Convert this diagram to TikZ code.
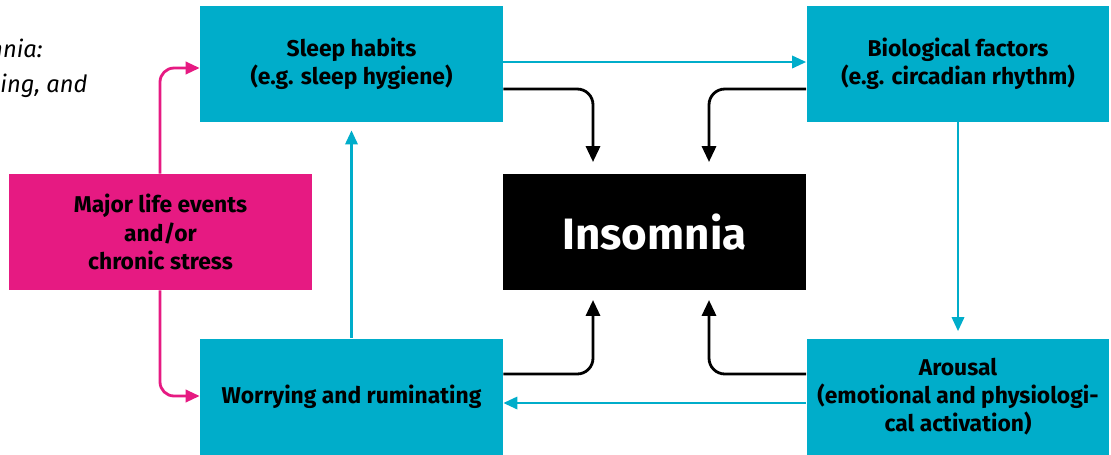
\documentclass[tikz,border=0pt]{standalone}
\usepackage{fontspec}
\setmainfont{Fira Sans}
\usetikzlibrary{arrows.meta}

\definecolor{boxcyan}{HTML}{00ADCA}
\definecolor{boxpink}{HTML}{E61A82}

\begin{document}
\begin{tikzpicture}[x=0.02cm,y=-0.02cm,
  factor/.style={fill=boxcyan,minimum width=6.06cm,minimum height=2.32cm,
    align=center,font=\bfseries\fontsize{13}{16}\selectfont,inner sep=0pt},
  intro/.style={anchor=base east,inner sep=0pt,font=\itshape\fontsize{13.5}{17}\selectfont},
  cyanline/.style={draw=boxcyan,line width=1.4pt,-{Triangle[length=8pt,width=7pt]}},
  blackline/.style={draw=black,line width=1.6pt,rounded corners=9pt,-{Triangle[length=9pt,width=8pt]}},
  pinkline/.style={draw=boxpink,line width=1.6pt,rounded corners=8pt,-{Triangle[length=8pt,width=7pt]}}]
\clip (0,0) rectangle (1111,454);
\node [intro] (intro1) at (43,57) {Insomnia:};
\node [intro] (intro2) at (88,92) {ing, and};
\node [factor] (habits) at (351.5,64) {Sleep habits\\(e.g. sleep hygiene)};
\node [factor] (bio) at (958,64) {Biological factors\\(e.g. circadian rhythm)};
\node [factor,fill=black,text=white,font=\bfseries\fontsize{25}{30}\selectfont] (insomnia) at (654.5,232) {Insomnia};
\node [factor,fill=boxpink] (life) at (160.5,232) {Major life events\\and/or\\chronic stress};
\node [factor] (worry) at (351.5,396.5) {Worrying and ruminating};
\node [factor] (arousal) at (958,396.5) {Arousal\\(emotional and physiologi-\\cal activation)};
% cyan cycle
\draw [cyanline] (habits.east |- 0,62) -- (bio.west |- 0,62);
\draw [cyanline] (bio.south) -- ([yshift=0.14cm]arousal.north);
\draw [cyanline] (arousal.west |- 0,403) -- (worry.east |- 0,403);
\draw [cyanline] (worry.north) -- ([yshift=-0.16cm]habits.south);
% into insomnia
\draw [blackline] (habits.east |- 0,89) -- (593,89) -- (593,162);
\draw [blackline] (bio.west |- 0,89) -- (709,89) -- (709,162);
\draw [blackline] (worry.east |- 0,374) -- (593,374) -- (593,300);
\draw [blackline] (arousal.west |- 0,374) -- (709,374) -- (709,300);
% stress
\draw [pinkline] (life.north -| 160,0) -- (160,68) -- (habits.west |- 0,68);
\draw [pinkline] (life.south -| 160,0) -- (160,396) -- (worry.west |- 0,396);
\end{tikzpicture}
\end{document}
